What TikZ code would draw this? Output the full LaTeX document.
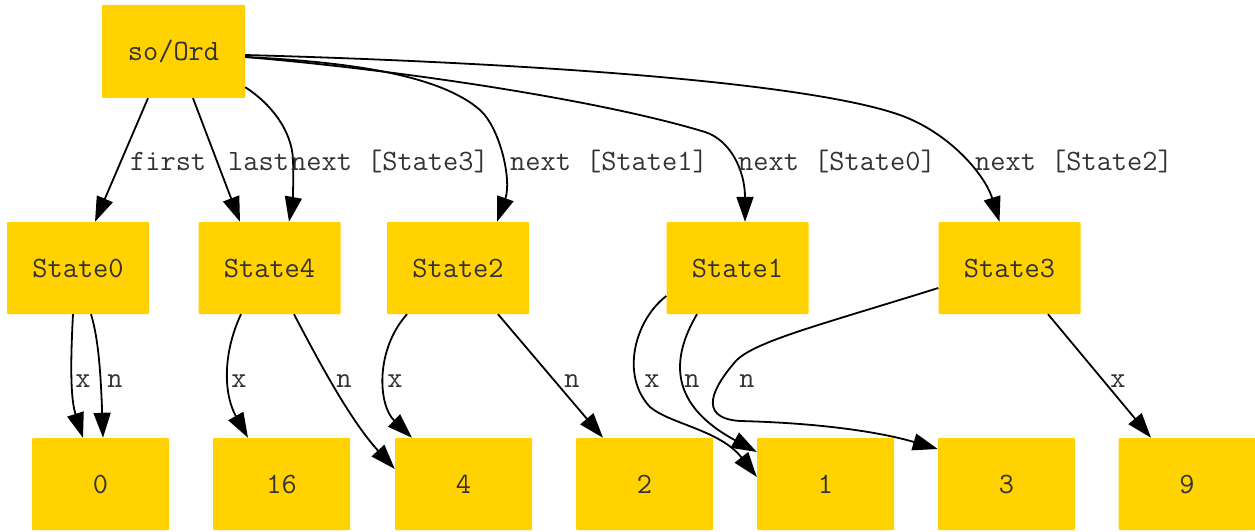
\documentclass[tikz,border=0pt]{standalone}
\usepackage{xcolor}
\definecolor{goldfill}{RGB}{255,210,0}
\usepackage{tikz}
\usetikzlibrary{arrows.meta,positioning}
\tikzset{
  gv_box/.style={rectangle,rounded corners=1pt,
    draw=none,fill=goldfill,text=black!80,
    inner sep=0pt,
    font=\ttfamily\fontsize{29.5}{32}\selectfont},
  gv_state/.style={gv_box,minimum width=142pt,minimum height=92pt},
  gv_val/.style={gv_box,minimum width=137pt,minimum height=92pt},
  gv_lbl/.style={inner sep=0pt,text=black!80,
    font=\ttfamily\fontsize{29.5}{32}\selectfont},
  arr/.style={-{Triangle[length=25pt,width=17pt]},line width=1.8pt,draw=black},
}

\begin{document}
\begin{tikzpicture}[x=1pt,y=-1pt]
  \useasboundingbox (0,0) rectangle (1255,532);

  \node (sOrd) [gv_state,minimum width=143pt,minimum height=93pt] at (173.5,51.5) {so/Ord};

  \node (st0) [gv_state] at (78,268)     {State0};
  \node (st4) [gv_state] at (269.5,268)  {State4};
  \node (st2) [gv_state] at (458,268)    {State2};
  \node (st1) [gv_state] at (737.5,268)  {State1};
  \node (st3) [gv_state] at (1009.5,268) {State3};

  \node (v0)  [gv_val] at (100.5,484)  {0};
  \node (v16) [gv_val] at (281.5,484)  {16};
  \node (v4)  [gv_val] at (463.5,484)  {4};
  \node (v2)  [gv_val] at (644.5,484)  {2};
  \node (v1)  [gv_val] at (825.5,484)  {1};
  \node (v3)  [gv_val] at (1006.5,484) {3};
  \node (v9)  [gv_val] at (1187,484)   {9};

  % edges from the list head
  \draw[arr] ([xshift=-25.5pt]sOrd.south) -- ([xshift=17pt]st0.north);
  \draw[arr] ([xshift=19.5pt]sOrd.south) -- ([xshift=-29.5pt]st4.north);
  \draw[arr] ([yshift=11pt]sOrd.south east)
    .. controls (270,103) and (292,130) .. (293,160)
    .. controls (294,185) and (292,205) .. ([xshift=19.5pt]st4.north);
  \draw[arr] ([yshift=-5.5pt]sOrd.east)
    .. controls (350,62) and (440,75) .. (480,110)
    .. controls (500,128) and (512,180) .. ([xshift=39pt]st2.north);
  \draw[arr] ([yshift=-5.5pt]sOrd.east)
    .. controls (400,70) and (600,100) .. (705,132)
    .. controls (730,140) and (745,170) .. ([xshift=7.5pt]st1.north);
  \draw[arr] ([yshift=-3.5pt]sOrd.east)
    .. controls (500,62) and (800,80) .. (900,115)
    .. controls (950,133) and (985,175) .. ([xshift=-10pt]st3.north);

  \node (lFirst) [gv_lbl,anchor=base west] at (130,170) {first};
  \node (lLast)  [gv_lbl,anchor=base west] at (228,170) {last};
  \node (lNx3)   [gv_lbl,anchor=base west] at (291,170) {next [State3]};
  \node (lNx1)   [gv_lbl,anchor=base west] at (510,170) {next [State1]};
  \node (lNx0)   [gv_lbl,anchor=base west] at (738,170) {next [State0]};
  \node (lNx2)   [gv_lbl,anchor=base west] at (975,170) {next [State2]};

  % edges to the values
  \draw[arr] ([xshift=-5pt]st0.south)
    .. controls (70,370) and (71,400) .. ([xshift=-17.5pt]v0.north);
  \draw[arr] ([xshift=13pt]st0.south)
    .. controls (99,340) and (101,380) .. ([xshift=2.5pt]v0.north);
  \draw[arr] ([xshift=-28.5pt]st4.south)
    .. controls (222,355) and (224,395) .. ([xshift=-33.5pt]v16.north);
  \draw[arr] ([xshift=24.5pt]st4.south)
    .. controls (318,360) and (350,420) .. ([yshift=15pt]v4.west);
  \draw[arr] ([xshift=-51pt]st2.south)
    .. controls (375,350) and (378,405) .. ([xshift=-51.5pt]v4.north);
  \draw[arr] ([xshift=40pt]st2.south) -- ([xshift=-41.5pt]v2.north);
  \draw[arr] ([yshift=-28pt]st1.west)
    .. controls (635,320) and (620,375) .. (650,407)
    .. controls (670,424) and (720,430) .. ([yshift=7pt]v1.west);
  \draw[arr] ([xshift=-40.5pt]st1.south)
    .. controls (670,360) and (670,405) .. ([yshift=32pt]v1.west);
  \draw[arr] ([yshift=-20pt]st3.west)
    .. controls (820,325) and (752,342) .. (735,362)
    .. controls (715,385) and (695,418) .. (740,421)
    .. controls (820,423) and (880,432) .. ([yshift=35pt]v3.west);
  \draw[arr] ([xshift=38.5pt]st3.south) -- ([xshift=-36pt]v9.north);

  \node (lx0)  [gv_lbl,anchor=base] at (83,387)   {x};
  \node (ln0)  [gv_lbl,anchor=base] at (115,387)  {n};
  \node (lx4)  [gv_lbl,anchor=base] at (239,387)  {x};
  \node (ln4)  [gv_lbl,anchor=base] at (344,387)  {n};
  \node (lx2)  [gv_lbl,anchor=base] at (395,387)  {x};
  \node (ln2)  [gv_lbl,anchor=base] at (572,387)  {n};
  \node (lx1)  [gv_lbl,anchor=base] at (652,387)  {x};
  \node (ln1)  [gv_lbl,anchor=base] at (692,387)  {n};
  \node (ln3)  [gv_lbl,anchor=base] at (747,387)  {n};
  \node (lx3)  [gv_lbl,anchor=base] at (1118,387) {x};

\end{tikzpicture}
\end{document}
